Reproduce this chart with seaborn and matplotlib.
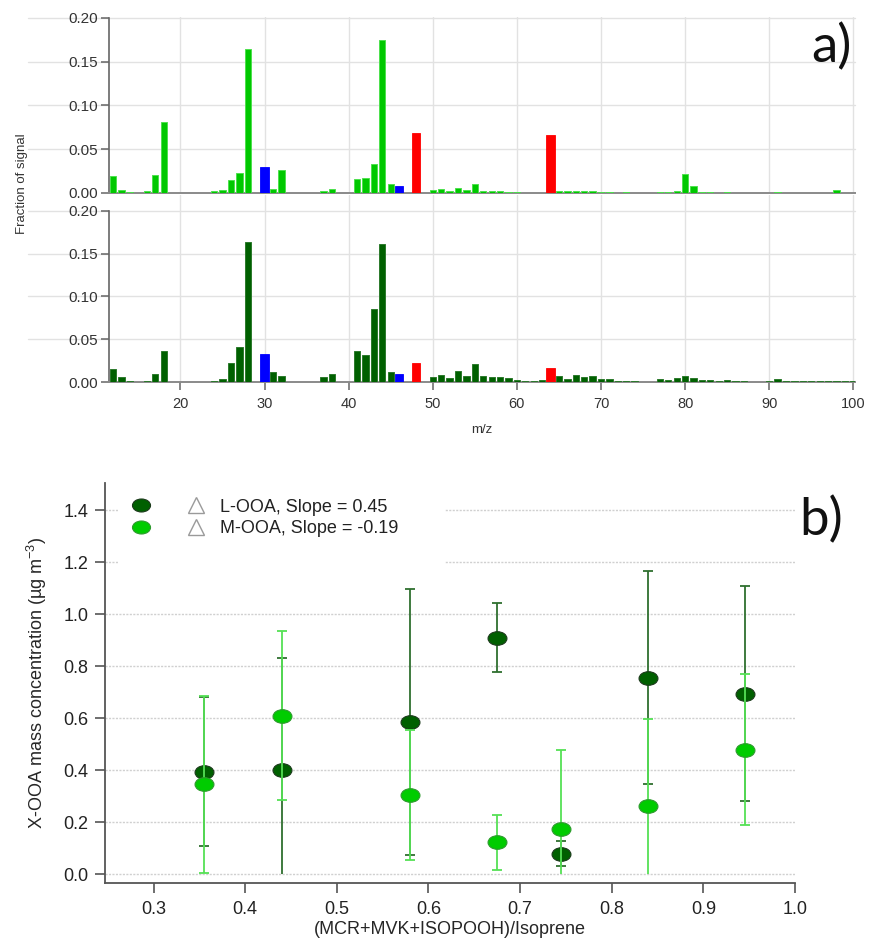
import numpy as np
import pandas as pd
import matplotlib
matplotlib.use("Agg")
import matplotlib.pyplot as plt
import matplotlib.colors as mcolors
import seaborn as sns
from matplotlib.path import Path
from matplotlib.lines import Line2D
from matplotlib.patches import Rectangle
from matplotlib.legend_handler import HandlerTuple

# ---------------------------------------------------------------- data
mz = list(range(12, 101))
nitrate_mz = [30, 46]
sulfate_mz = [48, 64]

# M-OOA mass spectrum (upper panel), m/z 12 ... 100
mooa_frac = [
    0.019, 0.003, 0.001, 0.0, 0.0027, 0.020, 0.081, 0.0005, 0.0005, 0.0,    # 12-21
    0.0, 0.0, 0.002, 0.0035, 0.0145, 0.023, 0.165, 0.0, 0.0297, 0.005,      # 22-31
    0.026, 0.0005, 0.0005, 0.0, 0.0, 0.0023, 0.005, 0.0, 0.0, 0.0164,       # 32-41
    0.0168, 0.0335, 0.1745, 0.0107, 0.0084, 0.0, 0.0686, 0.0005, 0.003, 0.0046,  # 42-51
    0.0027, 0.0057, 0.003, 0.0099, 0.0027, 0.0027, 0.002, 0.0015, 0.0015, 0.0005,  # 52-61
    0.0005, 0.0005, 0.0667, 0.0027, 0.0027, 0.0027, 0.002, 0.002, 0.0015, 0.0015,  # 62-71
    0.0005, 0.0015, 0.0005, 0.0005, 0.0005, 0.0015, 0.0015, 0.002, 0.0213, 0.0084,  # 72-81
    0.001, 0.001, 0.0005, 0.0008, 0.0005, 0.0005, 0.0005, 0.0005, 0.0005, 0.0015,  # 82-91
    0.0005, 0.0005, 0.0005, 0.0005, 0.0005, 0.0005, 0.003, 0.0005, 0.0005,        # 92-100
]

# L-OOA mass spectrum (lower panel), m/z 12 ... 100
looa_frac = [
    0.0156, 0.0055, 0.0016, 0.0, 0.0016, 0.0094, 0.0359, 0.0003, 0.0, 0.0,  # 12-21
    0.0, 0.0, 0.001, 0.004, 0.0218, 0.0405, 0.164, 0.0, 0.0327, 0.012,      # 22-31
    0.007, 0.0005, 0.0, 0.0, 0.0, 0.0055, 0.009, 0.0, 0.0, 0.0363,          # 32-41
    0.032, 0.0854, 0.1614, 0.012, 0.009, 0.0, 0.0218, 0.0005, 0.0055, 0.0078,  # 42-51
    0.0047, 0.0125, 0.007, 0.0214, 0.007, 0.0055, 0.0055, 0.0043, 0.0023, 0.0008,  # 52-61
    0.0008, 0.0023, 0.0164, 0.007, 0.003, 0.0078, 0.0055, 0.0074, 0.0035, 0.004,  # 62-71
    0.0016, 0.0016, 0.0012, 0.0005, 0.0005, 0.0035, 0.0025, 0.005, 0.0074, 0.0047,  # 72-81
    0.0027, 0.0027, 0.0016, 0.0023, 0.0012, 0.0012, 0.0005, 0.0005, 0.0008, 0.004,  # 82-91
    0.0016, 0.0016, 0.0012, 0.0016, 0.0012, 0.0012, 0.0012, 0.0012, 0.0012,        # 92-100
]

# X-OOA concentrations versus oxidation-product ratio
ratio = [0.355, 0.44, 0.58, 0.675, 0.745, 0.84, 0.945]
looa_conc = [0.395, 0.401, 0.585, 0.910, 0.079, 0.756, 0.695]
looa_err = [0.285, 0.432, 0.512, 0.134, 0.048, 0.410, 0.413]
mooa_conc = [0.347, 0.610, 0.305, 0.123, 0.175, 0.261, 0.479]
mooa_err = [0.340, 0.325, 0.250, 0.107, 0.303, 0.337, 0.290]

legend_labels = ["L-OOA, Slope = 0.45", "M-OOA, Slope = -0.19"]

# ---------------------------------------------------------------- style
sns.set_theme(style="white")
plt.rcParams["font.family"] = ["Liberation Sans", "DejaVu Sans"]
plt.rcParams["mathtext.fontset"] = "custom"
plt.rcParams["mathtext.rm"] = "Liberation Sans"
plt.rcParams["mathtext.it"] = "Liberation Sans:italic"
plt.rcParams["text.color"] = "#222222"

LIGHT = "#00C800"
LIGHT_EDGE = "#4EE04E"
DARK = "#006000"
DARK_EDGE = "#2C7A2C"
BLUE = "#0000FF"
RED = "#FF0000"
AXIS_GREY = "#666666"
GRID_GREY = "#e2e2e2"

ion_family = ["NO3" if m in nitrate_mz else "SO4" if m in sulfate_mz else "Org" for m in mz]

W, H = 869, 946
fig = plt.figure(figsize=(W / 100, H / 100), dpi=100)


def px_box(left, top, right, bottom):
    return [left / W, 1 - bottom / H, (right - left) / W, (bottom - top) / H]


ax_top = fig.add_axes(px_box(109, 17, 855, 193))
ax_bot = fig.add_axes(px_box(109, 195, 855, 382))
ax_b = fig.add_axes(px_box(105, 483, 795, 883))


def draw_spectrum(ax, frac, org_color, org_edge, ymax, show_xlabels):
    df = pd.DataFrame({"mz": mz, "frac": frac, "ion": ion_family})
    palette = {"Org": org_color, "NO3": BLUE, "SO4": RED}
    sns.barplot(data=df, x="mz", y="frac", hue="ion", palette=palette,
                native_scale=True, dodge=False, width=0.75, errorbar=None,
                saturation=1, legend=False, ax=ax, zorder=3)
    org_rgb = mcolors.to_rgb(org_color)
    for p in ax.patches:
        fc = tuple(p.get_facecolor()[:3])
        if np.allclose(fc, org_rgb):
            p.set_edgecolor(org_edge)
            p.set_linewidth(0.7)
        else:
            # inorganic fragments are drawn a little wider
            cx = p.get_x() + p.get_width() / 2
            p.set_width(1.0)
            p.set_x(cx - 0.5)
            p.set_edgecolor(fc)
            p.set_linewidth(0.6)

    ax.set_xlim(11.5, 100.2)
    ax.set_ylim(0, ymax)
    yt = [0.0, 0.05, 0.10, 0.15, 0.20]
    ax.set_yticks(yt)
    ax.set_yticklabels([f"{v:.2f}" for v in yt])
    ax.set_xticks(list(range(20, 101, 10)))
    ax.set_xlabel("")
    ax.set_ylabel("")
    for s in ("top", "right"):
        ax.spines[s].set_visible(False)
    ax.spines["left"].set_bounds(0, 0.2)
    ax.spines["left"].set_color(AXIS_GREY)
    ax.spines["left"].set_linewidth(1.2)
    ax.spines["bottom"].set_color("#8a8a8a")
    ax.spines["bottom"].set_linewidth(1.4)
    ax.set_axisbelow(True)
    ax.grid(axis="x", color=GRID_GREY, lw=1.0, zorder=0)
    for v in yt[1:]:
        ax.axhline(v, xmin=-0.109, xmax=1.0, color=GRID_GREY, lw=1.0,
                   zorder=0, clip_on=False)
    ax.tick_params(axis="y", left=True, length=6, width=1.1, color=AXIS_GREY,
                   labelsize=11, labelcolor="#333333", pad=2)
    if show_xlabels:
        ax.tick_params(axis="x", bottom=True, length=6, width=1.1,
                       color=AXIS_GREY, labelsize=10.5, labelcolor="#333333", pad=5)
    else:
        ax.tick_params(axis="x", bottom=False, labelbottom=False)
    ax.set_facecolor("none")


draw_spectrum(ax_top, mooa_frac, LIGHT, LIGHT_EDGE, 0.2011, False)
draw_spectrum(ax_bot, looa_frac, DARK, DARK_EDGE, 0.2187, True)
ax_bot.set_xlabel("m/z", fontsize=9.5, color="#333333", labelpad=9)

fig.text(22 / W, 1 - 184 / H, "Fraction of signal", rotation=90,
         ha="center", va="center", fontsize=9.5, color="#333333")
fig.text(852 / W, 1 - 47 / H, "a)", ha="right", va="center", fontsize=38,
         family=["Lato", "DejaVu Sans"], color="#111111")

# ---------------------------------------------------------------- panel b
circ = Path.unit_circle()
ellipse = Path(circ.vertices * np.array([1.0, 0.72]), circ.codes)

ERR_DARK = "#2F6F2F"
ERR_LIGHT = "#55E055"


def draw_errors(ax, x, y, e, color, z):
    x = np.asarray(x)
    y = np.asarray(y)
    e = np.asarray(e)
    lower = np.minimum(e, y)  # bars stop at zero
    ax.errorbar(x, y, yerr=[lower, e], fmt="none", ecolor=color,
                elinewidth=1.3, capsize=0, zorder=z)
    ax.plot(x, y + e, ls="none", marker="_", ms=7, mew=1.3, color=color, zorder=z)
    keep = y - e > 0
    ax.plot(x[keep], (y - e)[keep], ls="none", marker="_", ms=7, mew=1.3,
            color=color, zorder=z)


draw_errors(ax_b, ratio, looa_conc, looa_err, ERR_DARK, 2)
sns.scatterplot(x=ratio, y=looa_conc, marker=ellipse, s=185, color=DARK,
                edgecolor="#1c3a1c", linewidth=0.8, zorder=3, ax=ax_b, legend=False)
draw_errors(ax_b, ratio, mooa_conc, mooa_err, ERR_LIGHT, 4)
sns.scatterplot(x=ratio, y=mooa_conc, marker=ellipse, s=185, color="#00CC00",
                edgecolor="#2f9a2f", linewidth=0.8, zorder=5, ax=ax_b, legend=False)

ax_b.set_xlim(0.247, 1.0)
ax_b.set_ylim(-0.033, 1.504)
yt_b = [0.0, 0.2, 0.4, 0.6, 0.8, 1.0, 1.2, 1.4]
ax_b.set_yticks(yt_b)
ax_b.set_yticklabels([f"{v:.1f}" for v in yt_b])
xt_b = [0.3, 0.4, 0.5, 0.6, 0.7, 0.8, 0.9, 1.0]
ax_b.set_xticks(xt_b)
ax_b.set_xticklabels([f"{v:.1f}" for v in xt_b])
for s in ("top", "right"):
    ax_b.spines[s].set_visible(False)
for s in ("left", "bottom"):
    ax_b.spines[s].set_color("#555555")
    ax_b.spines[s].set_linewidth(1.3)
ax_b.set_axisbelow(True)
ax_b.grid(axis="y", color="#d0d0d0", lw=1.0, ls=(0, (1.5, 1.0)), zorder=0)
ax_b.grid(axis="x", visible=False)
ax_b.tick_params(axis="both", length=7, width=1.2, color="#555555",
                 labelsize=13, labelcolor="#222222")
ax_b.tick_params(axis="y", left=True, pad=5)
ax_b.tick_params(axis="x", bottom=True, pad=6)
ax_b.set_xlabel("(MCR+MVK+ISOPOOH)/Isoprene", fontsize=13, labelpad=2)
ax_b.set_ylabel(r"X-OOA mass concentration (µg m$^{-3}$)", fontsize=13, labelpad=10)

# white backing behind the legend
ax_b.add_patch(Rectangle((0.019, 0.7875), 0.474, 0.2, transform=ax_b.transAxes,
                         facecolor="white", edgecolor="none", zorder=1))

tri = Line2D([], [], ls="none", marker="^", ms=11, mfc="white", mec="#9a9a9a", mew=1.0)
h_l = Line2D([], [], ls="none", marker=ellipse, ms=13, mfc=DARK, mec="#1c3a1c", mew=0.8)
h_m = Line2D([], [], ls="none", marker=ellipse, ms=13, mfc="#00CC00", mec="#2f9a2f", mew=0.8)
ax_b.legend(handles=[(h_l, tri), (h_m, tri)], labels=legend_labels,
            handler_map={tuple: HandlerTuple(ndivide=None, pad=2.17)},
            handlelength=3.93, handletextpad=0.89, labelspacing=0.27,
            borderpad=0, borderaxespad=0, frameon=False, fontsize=13,
            loc="upper left", bbox_to_anchor=(0.0406, 0.961))

fig.text(843 / W, 1 - 520 / H, "b)", ha="right", va="center", fontsize=38,
         family=["Lato", "DejaVu Sans"], color="#111111")

fig.savefig("out.png", dpi=100)
